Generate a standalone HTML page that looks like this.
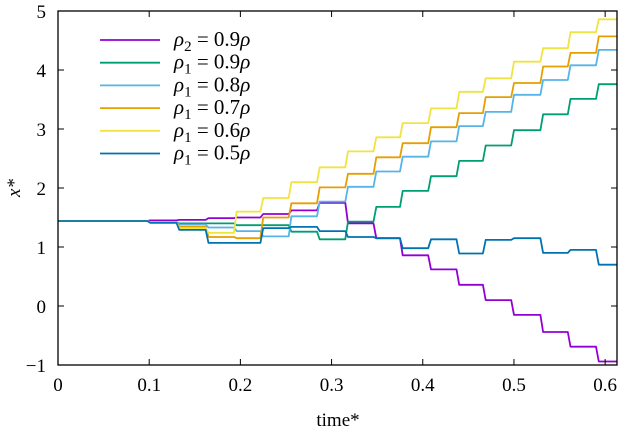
<!DOCTYPE html>
<html><head><meta charset="utf-8"><style>
body{margin:0;background:#fff}
svg{display:block;font-family:"Liberation Serif",serif}
</style></head><body>
<svg id="chart" width="620" height="436" viewBox="0 0 620 436" xmlns="http://www.w3.org/2000/svg">
<g id="series"></g>
<g id="axes"></g>
<g id="legend"></g>
</svg>
<script>
const stepTimes = [0, 0.099, 0.131, 0.163, 0.194, 0.223, 0.254, 0.285, 0.316, 0.347, 0.376, 0.407, 0.438, 0.467, 0.498, 0.530, 0.560, 0.591];
const endTime = 0.613;
const rho2_09 = [1.44,1.45,1.46,1.49,1.50,1.56,1.62,1.75,1.40,1.15,0.86,0.62,0.36,0.10,-0.15,-0.44,-0.69,-0.94];
const rho1_09 = [1.44,1.42,1.40,1.40,1.37,1.37,1.26,1.13,1.43,1.68,1.95,2.20,2.46,2.72,2.98,3.25,3.51,3.76];
const rho1_08 = [1.44,1.42,1.38,1.33,1.27,1.18,1.52,1.77,2.02,2.28,2.53,2.79,3.05,3.29,3.58,3.83,4.08,4.34];
const rho1_07 = [1.44,1.42,1.34,1.17,1.15,1.50,1.74,2.01,2.24,2.52,2.76,3.03,3.27,3.54,3.78,4.06,4.29,4.57];
const rho1_06 = [1.44,1.42,1.32,1.24,1.60,1.83,2.10,2.35,2.62,2.86,3.10,3.35,3.63,3.86,4.14,4.37,4.64,4.86];
const rho1_05 = [1.44,1.41,1.29,1.07,1.07,1.32,1.34,1.27,1.17,1.15,0.98,1.13,0.89,1.12,1.15,0.90,0.95,0.70];
const seriesLabels = [["2","0.9"],["1","0.9"],["1","0.8"],["1","0.7"],["1","0.6"],["1","0.5"]];
const seriesColors = ["#9400d3","#009e73","#56b4e9","#e69f00","#f0e442","#0072b2"];
const seriesData = [rho2_09, rho1_09, rho1_08, rho1_07, rho1_06, rho1_05];
const xTicks = [0,0.1,0.2,0.3,0.4,0.5,0.6];
const xTickLabels = ["0","0.1","0.2","0.3","0.4","0.5","0.6"];
const yTicks = [-1,0,1,2,3,4,5];
const yTickLabels = ["\u22121","0","1","2","3","4","5"];

const L=58,R=617,T=11,B=365,xMax=0.613,yMin=-1,yMax=5;
const xs=v=>L+(v/xMax)*(R-L);
const ys=v=>B-(v-yMin)/(yMax-yMin)*(B-T);
const NS="http://www.w3.org/2000/svg";
function mk(tag,attrs,parent){const e=document.createElementNS(NS,tag);for(const k in attrs)e.setAttribute(k,attrs[k]);parent.appendChild(e);return e;}

const sg=document.getElementById('series');
seriesData.forEach((vals,si)=>{
  let d="";
  vals.forEach((v,i)=>{
    const t0=stepTimes[i], t1=i+1<stepTimes.length?stepTimes[i+1]:endTime;
    const a=(i===0?t0:t0+0.002);
    d+=(i===0?"M":"L")+xs(a).toFixed(1)+","+ys(v).toFixed(1)+"L"+xs(t1-(i+1<stepTimes.length?0.001:0)).toFixed(1)+","+ys(v).toFixed(1);
  });
  const p=mk('path',{d:d,fill:'none',stroke:seriesColors[si],'stroke-width':1.8,'stroke-linejoin':'round'},sg);
  
  
});

const ax=document.getElementById('axes');
const frame=mk('rect',{x:L,y:T,width:R-L,height:B-T,fill:'none',stroke:'#000','stroke-width':1.3},ax);


xTicks.forEach((v,i)=>{
  const x=xs(v);
  mk('line',{x1:x,y1:B,x2:x,y2:B-6,stroke:'#000','stroke-width':1},ax);
  mk('line',{x1:x,y1:T,x2:x,y2:T+6,stroke:'#000','stroke-width':1},ax);
  const t=mk('text',{x:x,y:391,'text-anchor':'middle','font-size':19},ax);
  t.textContent=xTickLabels[i];
  
  
});
yTicks.forEach((v,i)=>{
  const y=ys(v);
  mk('line',{x1:L,y1:y,x2:L+6,y2:y,stroke:'#000','stroke-width':1},ax);
  mk('line',{x1:R,y1:y,x2:R-6,y2:y,stroke:'#000','stroke-width':1},ax);
  const t=mk('text',{x:46,y:y+7,'text-anchor':'end','font-size':19},ax);
  t.textContent=yTickLabels[i];
  
  
});
const xt=mk('text',{x:338,y:426,'text-anchor':'middle','font-size':19},ax);
xt.textContent="time*";


const yt=mk('text',{x:0,y:0,'text-anchor':'middle','font-size':19,'font-style':'italic',transform:'translate(20,188) rotate(-90)'},ax);
yt.textContent="x*";



const lg=document.getElementById('legend');
seriesLabels.forEach((lab,i)=>{
  const y=40+i*22.7;
  const ln=mk('line',{x1:100,y1:y,x2:160,y2:y,stroke:seriesColors[i],'stroke-width':1.8},lg);
  
  
  const t=mk('text',{x:174,y:y+6,'font-size':21},lg);
  
  
  const a=mk('tspan',{'font-style':'italic'},t);a.textContent="\u03C1";
  const b=mk('tspan',{dy:5,'font-size':15},t);b.textContent=lab[0];
  const c=mk('tspan',{dy:-5},t);c.textContent=" = "+lab[1];
  const d=mk('tspan',{'font-style':'italic'},t);d.textContent="\u03C1";
});
</script>
</body></html>
